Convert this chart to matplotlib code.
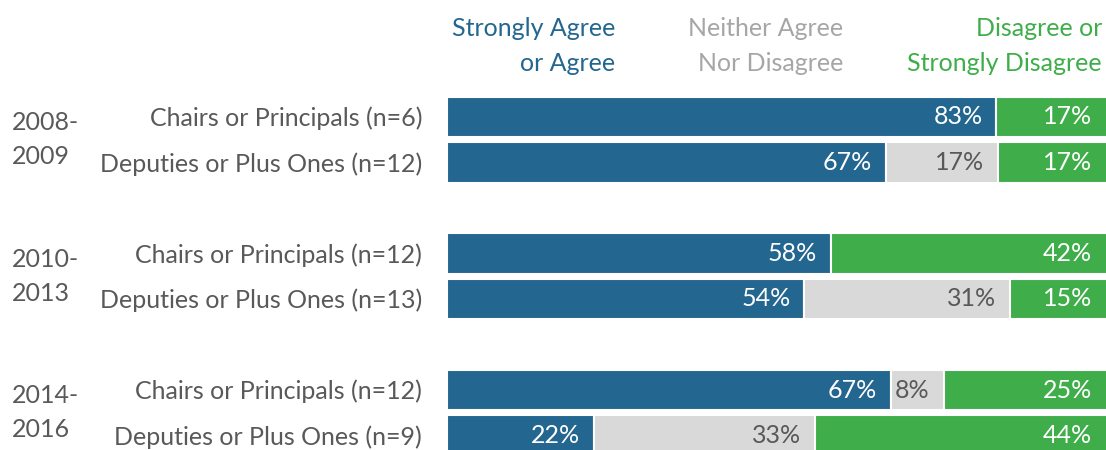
import matplotlib.pyplot as plt
import matplotlib.transforms as mtransforms

plt.rcParams['font.family'] = ['Lato', 'DejaVu Sans']

periods = ["2008-\n2009", "2010-\n2013", "2014-\n2016"]
groups = [
    "Chairs or Principals (n=6)", "Deputies or Plus Ones (n=12)",
    "Chairs or Principals (n=12)", "Deputies or Plus Ones (n=13)",
    "Chairs or Principals (n=12)", "Deputies or Plus Ones (n=9)",
]
agree = [83, 67, 58, 54, 67, 22]
neither = [0, 17, 0, 31, 8, 33]
disagree = [17, 17, 42, 15, 25, 44]

headers = ["Strongly Agree\nor Agree", "Neither Agree\nNor Disagree",
           "Disagree or\nStrongly Disagree"]

BLUE = "#23668f"
GRAY = "#d9d9d9"
GREEN = "#3fae4a"
TEXT = "#595959"
HEAD_COLORS = [BLUE, "#a6a6a6", GREEN]

W, H = 1106, 450
fig = plt.figure(figsize=(W / 100, H / 100), dpi=100)
# bars run a few pixels past the right edge, as in the original
ax = fig.add_axes([447 / W, 0, 662 / W, 1])

unit = 45.5
ax.set_ylim((H - 117) / unit, -117 / unit)
ax.set_xlim(0, 100)
ax.axis("off")

ypos = [0, 1, 3, 4, 6, 7]
fs = 18

for y, a, n, d in zip(ypos, agree, neither, disagree):
    total = a + n + d
    segs = [(a, BLUE, "white"), (n, GRAY, TEXT), (d, GREEN, "white")]
    left = 0
    for v, c, tc in segs:
        w = v * 100 / total
        if v > 0:
            ax.barh(y, w, left=left, height=0.88, color=c,
                    edgecolor="white", linewidth=1.5)
            pad = -10 if left + w < 99 else -12
            ax.annotate(f"{v}%", xy=(left + w, y), xytext=(pad, 0),
                        textcoords="offset points", ha="right", va="center",
                        fontsize=fs, color=tc)
        left += w

tr = mtransforms.blended_transform_factory(fig.transFigure, ax.transData)
for y, g in zip(ypos, groups):
    fig.text(422 / W, y + 0.03, g, transform=tr, ha="right", va="center",
             fontsize=fs, color=TEXT)

for i, p in enumerate(periods):
    fig.text(12 / W, ypos[2 * i] + 0.5, p, transform=tr, ha="left",
             va="center", fontsize=fs, color=TEXT, linespacing=1.6)

head_x = [615, 843, 1102]
for x, h, c in zip(head_x, headers, HEAD_COLORS):
    fig.text(x / W, 1 - 46 / H, h, ha="right", va="center", fontsize=fs,
             color=c, linespacing=1.6)

fig.savefig("out.png", dpi=100)
